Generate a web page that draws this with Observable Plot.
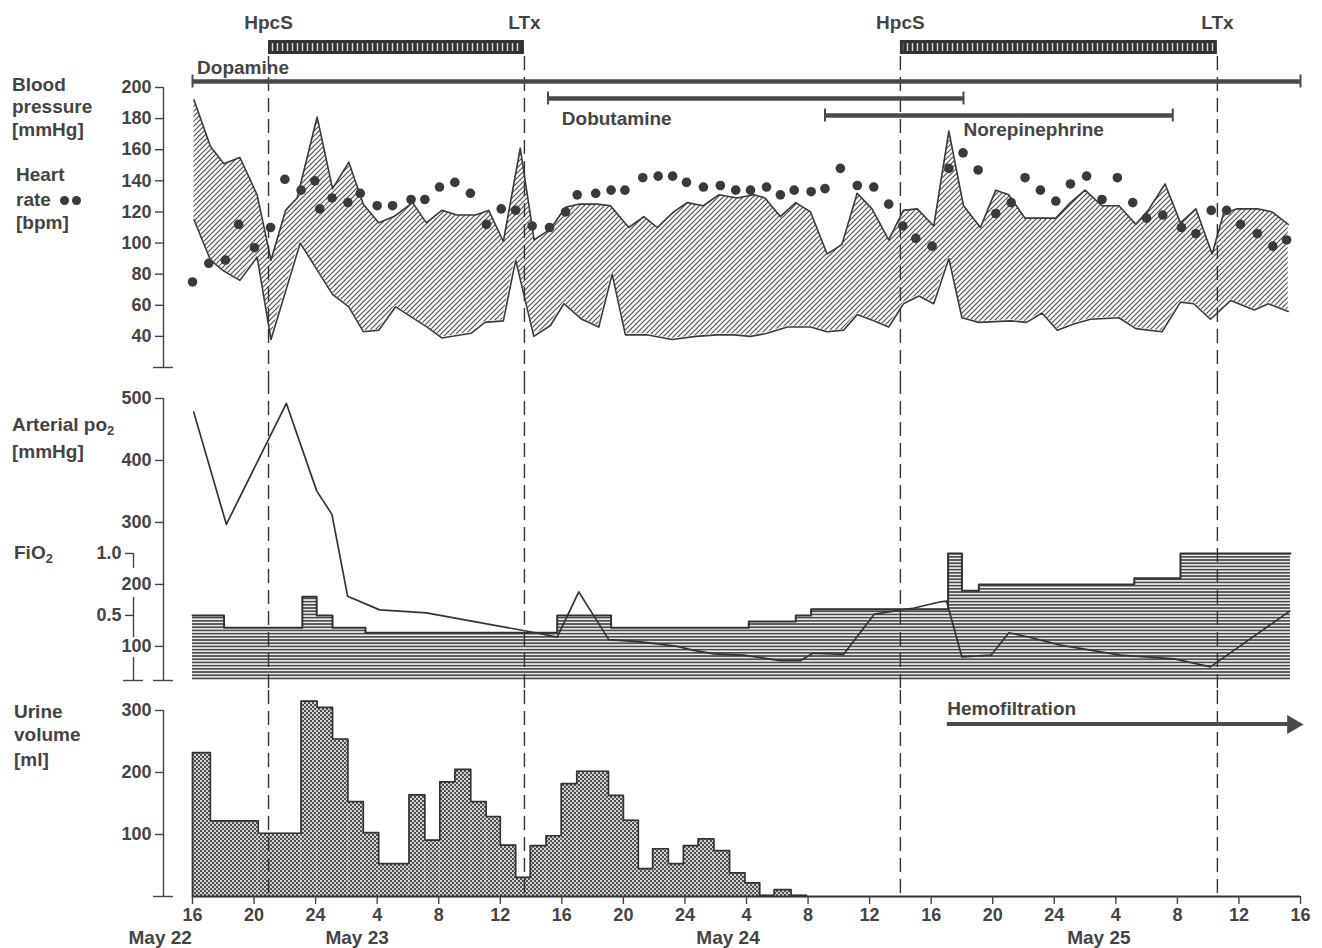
<!DOCTYPE html>
<html>
<head>
<meta charset="utf-8">
<script src="https://cdn.jsdelivr.net/npm/d3@7"></script>
<script src="https://cdn.jsdelivr.net/npm/@observablehq/plot@0.6"></script>
<style>
  html, body { margin: 0; padding: 0; background: #fff; }
  #chart { position: relative; width: 1322px; height: 948px; background: #fff; overflow: hidden;
           font-family: "Liberation Sans", Arial, sans-serif; color: #444; }
  #chart svg.panel { position: absolute; left: 0; }
  .lab { position: absolute; font-size: 19px; font-weight: bold; line-height: 22px; white-space: nowrap; color: #444; }
  .lab sub { font-size: 13px; vertical-align: -4px; line-height: 0; }
  .hd { display: inline-block; width: 9px; height: 9px; border-radius: 50%; background: #3a3a3a; margin-left: 4px; vertical-align: 1px; }
</style>
</head>
<body>
<svg width="0" height="0" style="position:absolute">
  <defs>
    <pattern id="hatch" patternUnits="userSpaceOnUse" width="5" height="5">
      <path d="M-1,1 L1,-1 M0,5 L5,0 M4,6 L6,4" stroke="#4a4a4a" stroke-width="1.1"/>
    </pattern>
    <pattern id="hstripes" patternUnits="userSpaceOnUse" width="6" height="3.2">
      <rect width="6" height="3.2" fill="#f4f4f4"/>
      <rect width="6" height="1.7" fill="#4a4a4a"/>
    </pattern>
    <pattern id="checker" patternUnits="userSpaceOnUse" width="4" height="4">
      <rect width="4" height="4" fill="#d2d2d2"/>
      <rect width="2" height="2" fill="#4d4d4d"/>
      <rect x="2" y="2" width="2" height="2" fill="#4d4d4d"/>
    </pattern>
    <pattern id="vticks" patternUnits="userSpaceOnUse" width="5" height="10">
      <rect width="5" height="10" fill="#333"/>
      <rect x="1.8" width="1.4" height="10" fill="#d8d8d8"/>
    </pattern>
  </defs>
</svg>
<div id="chart">
  <div class="lab" style="left:12px;top:74px">Blood</div>
  <div class="lab" style="left:12px;top:96px">pressure</div>
  <div class="lab" style="left:12px;top:119px">[mmHg]</div>
  <div class="lab" style="left:16px;top:164px">Heart</div>
  <div class="lab" style="left:16px;top:189px">rate <span class="hd"></span><span class="hd" style="margin-left:3px"></span></div>
  <div class="lab" style="left:16px;top:212px">[bpm]</div>
  <div class="lab" style="left:12px;top:414px">Arterial po<sub>2</sub></div>
  <div class="lab" style="left:12px;top:441px">[mmHg]</div>
  <div class="lab" style="left:14px;top:542px">FiO<sub>2</sub></div>
  <div class="lab" style="left:14px;top:701px">Urine</div>
  <div class="lab" style="left:14px;top:724px">volume</div>
  <div class="lab" style="left:14px;top:749px">[ml]</div>
</div>
<script>
// ---------------- DATA (hours after May 22, 16:00) ----------------
const bpSystolic = [[0.1,192],[1.17,162],[2.04,151],[3.08,155],[4.2,131],[5.1,89],[6.05,121],[6.8,129],[8.1,181],[9.1,135],[10.16,152],[11.1,125],[12.1,113],[13.1,117],[14.3,126],[15.2,113],[16.2,121],[17.2,118],[18.4,118],[19.25,121],[20.2,101],[21.3,161],[22.2,102],[23.26,109],[24.24,123],[25.1,125],[26.3,125],[27.16,124],[28.35,110],[29.33,117],[30.2,110],[31.27,120],[32.14,126],[33.2,124],[34.2,131],[35.4,129],[36.47,131],[37.2,129],[38.2,117],[39.2,126],[40.16,120],[41.24,93],[42.2,99],[43.19,132],[44.16,122],[45.24,102],[46.2,121],[47.1,122],[48.17,111],[49.15,172],[50.1,124],[51.2,110],[52.2,134],[53.04,131],[54.1,116],[56.1,116],[57.05,126],[58.0,134],[59.1,124],[60.2,124],[61.3,112],[62.1,121],[63.2,138],[64.2,113],[65.2,122],[66.26,93],[67.0,119],[67.9,122],[69.2,122],[70.15,120],[71.2,112]];
const bpDiastolic = [[0.1,115],[1.17,89],[2.04,82],[3.08,76],[4.2,91],[5.1,38],[7.0,100],[9.1,67],[10.16,59],[11.1,43],[12.1,44],[13.2,59],[15.25,46],[16.2,39],[18.1,42],[19.0,49],[20.2,50],[21.0,89],[22.18,40],[23.26,47],[24.13,61],[25.3,51],[26.4,46],[27.27,80],[28.13,41],[29.5,41],[31.17,38],[32.7,40],[34.1,41],[35.2,41],[36.26,40],[37.34,42],[38.64,46],[40.16,46],[41.24,43],[42.3,44],[43.19,54],[44.27,50],[45.24,46],[46.2,61],[47.2,66],[48.17,61],[49.15,90],[50.0,52],[51.1,49],[53.15,50],[54.2,49],[55.2,55],[56.2,44],[57.26,48],[58.35,51],[60.2,52],[61.3,45],[63.0,43],[64.2,62],[65.06,61],[66.15,51],[67.45,63],[69.0,57],[69.9,61],[71.2,56]];
const heartRate = [[0,75],[1.06,87],[2.14,89],[3.0,112],[4.03,97],[5.07,110],[6.0,141],[7.06,134],[7.95,140],[8.27,122],[9.07,129],[10.1,126],[10.9,132],[12.0,124],[13.0,124],[14.2,128],[15.1,128],[16.05,136],[17.05,139],[18.06,132],[19.1,112],[20.06,122],[21.0,121],[22.07,111],[23.2,110],[24.24,120],[25.0,131],[26.2,132],[27.2,134],[28.1,134],[29.26,142],[30.26,143],[31.2,143],[32.1,139],[33.2,136],[34.3,137],[35.3,134],[36.26,134],[37.3,136],[38.2,131],[39.1,134],[40.2,133],[41.1,135],[42.1,148],[43.2,137],[44.27,136],[45.24,125],[46.15,111],[47.0,103],[48.06,98],[49.15,148],[50.07,158],[51.05,147],[52.2,119],[53.2,126],[54.1,142],[55.1,134],[56.1,127],[57.05,138],[58.1,143],[59.1,128],[60.1,142],[61.1,126],[62.0,116],[63.05,118],[64.26,110],[65.2,106],[66.2,121],[67.2,121],[68.1,112],[69.2,106],[70.2,98],[71.1,102]];
const arterialPo2 = [[0.08,478],[2.2,297],[6.1,492],[8.07,351],[9.06,313],[10.08,181],[12.16,159],[15.2,154],[22.3,122],[23.7,115],[25.1,188],[27.05,111],[29.3,107],[31.5,100],[32.5,94],[33.9,88],[35.8,86],[38.2,77],[39.5,77],[40.3,89],[42.3,87],[44.3,152],[46.9,162],[48.6,172],[49.0,173],[50.0,83],[51.9,86],[53.05,122],[54.2,116],[56.4,102],[60.3,86],[63.8,80],[66.15,67],[71.3,157]];
const fio2Steps = [[0,0.5],[2.05,0.4],[7.14,0.65],[8.07,0.5],[9.1,0.4],[11.24,0.36],[23.7,0.5],[27.2,0.4],[36.15,0.45],[39.2,0.5],[40.2,0.55],[49.1,1.0],[50.0,0.7],[51.1,0.75],[61.2,0.8],[64.2,1.0],[71.35,1.0]];
const urineStart = [0,1.16,4.27,7.05,8.1,9.1,10.1,11.1,12.1,14.07,15.1,16.07,17.05,18.08,19.08,20.0,21.0,21.95,22.98,23.96,24.97,27.03,28.0,28.97,29.9,30.92,31.9,32.86,33.88,34.9,35.9,36.86,37.8,38.9];
const urineVolume = [232,122,102,315,305,254,153,103,53,164,91,185,205,153,129,83,31,82,98,182,202,163,123,45,77,53,82,93,74,38,22,2,11,2];
const urineLastEnd = 39.9;
const eventHours = [4.94, 21.57, 46.0, 66.6];
const eventLabels = ["HpcS", "LTx", "HpcS", "LTx"];
const drugNames = ["Dopamine", "Dobutamine", "Norepinephrine"];
const drugStart = [0, 23.1, 41.1];
const drugEnd = [72, 50.1, 63.7];
const drugLabelHour = [0.3, 24.0, 50.1];
const hemofiltration = {label: "Hemofiltration", start: 49.05, end: 71.75};
const tickHours = [0,4,8,12,16,20,24,28,32,36,40,44,48,52,56,60,64,68,72];
const tickLabels = ["16","20","24","4","8","12","16","20","24","4","8","12","16","20","24","4","8","12","16"];
const dateLabels = ["May 22", "May 23", "May 24", "May 25"];
const dateHours = [-2.1, 10.7, 34.8, 58.9];
const bpTicks = [40,60,80,100,120,140,160,180,200];
const po2Ticks = [100,200,300,400,500];
const fio2Ticks = [0.5, 1.0];
const urineTicks = [100,200,300];
const fio2AxisPieces = [[1.0,0.88],[0.645,0.32],[0.16,-0.025]];

// ---------------- derived tables ----------------
const toXY = a => a.map(([h, v]) => ({h, v}));
const sys = toXY(bpSystolic), dia = toXY(bpDiastolic), hr = toXY(heartRate), po2 = toXY(arterialPo2);
const fio2ToPo2 = f => 50 + 200 * f;           // FiO2 axis shares the pO2 panel
const fio2 = fio2Steps.map(([h, f]) => ({h, y: fio2ToPo2(f)}));
const urine = urineStart.map((s, i) => ({start: s, end: i < urineStart.length - 1 ? urineStart[i + 1] : urineLastEnd, v: urineVolume[i]}));
const urineOutline = [{h: urine[0].start, v: 0}, ...urine.map(d => ({h: d.start, v: d.v})),
  {h: urineLastEnd, v: urineVolume[urineVolume.length - 1]}, {h: urineLastEnd, v: 0}];
const events = eventHours.map((h, i) => ({h, label: eventLabels[i]}));
const stays = [{start: eventHours[0], end: eventHours[1]}, {start: eventHours[2], end: eventHours[3]}];
const drugs = drugNames.map((name, i) => ({name, lane: i, start: drugStart[i], end: drugEnd[i], labelH: drugLabelHour[i]}));
const drugEnds = drugs.flatMap(d => [{lane: d.lane, h: d.start}, {lane: d.lane, h: d.end}]);
const dates = dateLabels.map((label, i) => ({label, h: dateHours[i]}));

// ---------------- shared styling ----------------
const W = 1322, ink = "#3a3a3a", txt = "#444";
const font = "Liberation Sans, Arial, sans-serif";
const X = {domain: [0, 72], range: [192, 1300], axis: null};
const common = {width: W, marginLeft: 192, marginRight: 22, style: {background: "transparent", fontFamily: font, overflow: "visible"}};
const dashed = {x: "h", stroke: "#333", strokeWidth: 1.4, strokeDasharray: "14,7"};
const axisStyle = {label: null, tickSize: 8, tickPadding: 4, fontSize: 18, fontWeight: "bold", color: txt, strokeWidth: 1.4};
const textStyle = {fontSize: 19, fontWeight: "bold", fill: txt, lineAnchor: "middle"};

// ---------------- panel 1: blood pressure & heart rate ----------------
const bpPlot = Plot.plot({
  ...common, height: 380, marginTop: 56, marginBottom: 0,
  x: X, y: {domain: [20, 200], range: [367, 87], axis: null},
  marks: [
    Plot.areaY(sys, {x: "h", y1: 20, y2: "v", fill: "url(#hatch)"}),
    Plot.areaY(dia, {x: "h", y1: 20, y2: "v", fill: "white", stroke: "white", strokeWidth: 2}),
    Plot.line(sys, {x: "h", y: "v", stroke: ink, strokeWidth: 1.6}),
    Plot.line(dia, {x: "h", y: "v", stroke: ink, strokeWidth: 1.6}),
    Plot.ruleX(events, dashed),
    Plot.dot(hr, {x: "h", y: "v", r: 4.8, fill: ink}),
    Plot.ruleX([0], {y1: 20, y2: 200, dx: -29, stroke: txt, strokeWidth: 1.4}),
    Plot.axisY({...axisStyle, ticks: bpTicks, dx: -29}),
    Plot.axisY({...axisStyle, ticks: [20], tickSize: 20, dx: -19, tickFormat: () => ""})
  ]
});

// ---------------- annotations over panel 1 ----------------
const annotPlot = Plot.plot({
  ...common, height: 140, marginTop: 0, marginBottom: 0,
  x: X, y: {domain: [0, 2], range: [81, 115], axis: null},
  marks: [
    Plot.text(events, {...textStyle, x: "h", text: "label", frameAnchor: "top", dy: 22}),
    Plot.rect(stays, {x1: "start", x2: "end", insetTop: 40, insetBottom: 86, fill: "#333"}),
    Plot.rect(stays, {x1: "start", x2: "end", insetTop: 43, insetBottom: 89, insetLeft: 3, insetRight: 3, fill: "url(#vticks)"}),
    Plot.ruleY(drugs, {y: "lane", x1: "start", x2: "end", stroke: "#4a4a4a", strokeWidth: 4.5}),
    Plot.ruleX(drugEnds, {x: "h", y1: d => d.lane - 0.38, y2: d => d.lane + 0.38, stroke: "#4a4a4a", strokeWidth: 2}),
    ...drugs.map((d, i) => Plot.text([d], {...textStyle, x: "labelH", y: "lane", text: "name", textAnchor: "start",
      dy: [-14, 20, 14][i]}))
  ]
});

// ---------------- panel 2: arterial pO2 & FiO2 ----------------
const po2Plot = Plot.plot({
  ...common, height: 310, marginTop: 0, marginBottom: 0,
  x: X, y: {domain: [45, 500], range: [300, 18], axis: null},
  marks: [
    Plot.areaY(fio2, {x: "h", y1: 45, y2: "y", curve: "step-after", fill: "url(#hstripes)"}),
    Plot.line(fio2, {x: "h", y: "y", curve: "step-after", stroke: "#333", strokeWidth: 2}),
    Plot.line(po2, {x: "h", y: "v", stroke: "#333", strokeWidth: 1.7}),
    Plot.ruleX(events, dashed),
    Plot.ruleX([0], {y1: 45, y2: 500, dx: -29, stroke: txt, strokeWidth: 1.4}),
    Plot.axisY({...axisStyle, ticks: po2Ticks, dx: -29}),
    Plot.axisY({...axisStyle, ticks: [45], tickSize: 20, dx: -19, tickFormat: () => ""}),
    Plot.ruleX(fio2AxisPieces, {x: 0, y1: d => fio2ToPo2(d[0]), y2: d => fio2ToPo2(d[1]), dx: -59, stroke: txt, strokeWidth: 1.4}),
    Plot.axisY({...axisStyle, ticks: fio2Ticks.map(fio2ToPo2), dx: -59,
      tickFormat: d => fio2Ticks[fio2Ticks.map(fio2ToPo2).indexOf(d)].toFixed(1)}),
    Plot.axisY({...axisStyle, ticks: [45], tickSize: 20, dx: -49, tickFormat: () => ""})
  ]
});

// ---------------- panel 3: urine volume ----------------
const urinePlot = Plot.plot({
  ...common, height: 258, marginTop: 0, marginBottom: 52,
  x: X, y: {domain: [0, 300], range: [206, 20], axis: null},
  marks: [
    Plot.rectY(urine, {x1: "start", x2: "end", y: "v", fill: "url(#checker)"}),
    Plot.line(urineOutline, {x: "h", y: "v", curve: "step-after", stroke: "#333", strokeWidth: 1.7}),
    Plot.ruleY([0], {stroke: "#333", strokeWidth: 1.8}),
    Plot.ruleX(events, dashed),
    Plot.ruleX([0], {y1: 0, y2: 300, dx: -29, stroke: txt, strokeWidth: 1.4}),
    Plot.axisY({...axisStyle, ticks: urineTicks, dx: -29}),
    Plot.axisY({...axisStyle, ticks: [0], tickSize: 20, dx: -19, tickFormat: () => ""}),
    Plot.axisX({...axisStyle, ticks: tickHours, tickPadding: 4, tickFormat: d => tickLabels[tickHours.indexOf(d)]}),
    Plot.text(dates, {...textStyle, x: "h", text: "label", frameAnchor: "bottom", dy: 41}),
    Plot.rect([hemofiltration], {x1: "start", x2: "end", insetTop: 32, insetBottom: 170, insetRight: 4, fill: "#4a4a4a"}),
    Plot.dot([hemofiltration], {x: "end", frameAnchor: "top", dy: 34, dx: -4, symbol: "triangle", rotate: 90, r: 7, fill: "#4a4a4a"}),
    Plot.text([hemofiltration], {...textStyle, x: "start", text: "label", frameAnchor: "top", dy: 18, textAnchor: "start"})
  ]
});

const chart = document.getElementById("chart");
[[bpPlot, 0], [po2Plot, 380], [urinePlot, 690], [annotPlot, 0]].forEach(([svg, top]) => {
  svg.classList.add("panel");
  svg.style.top = top + "px";
  chart.appendChild(svg);
});
</script>
</body>
</html>
